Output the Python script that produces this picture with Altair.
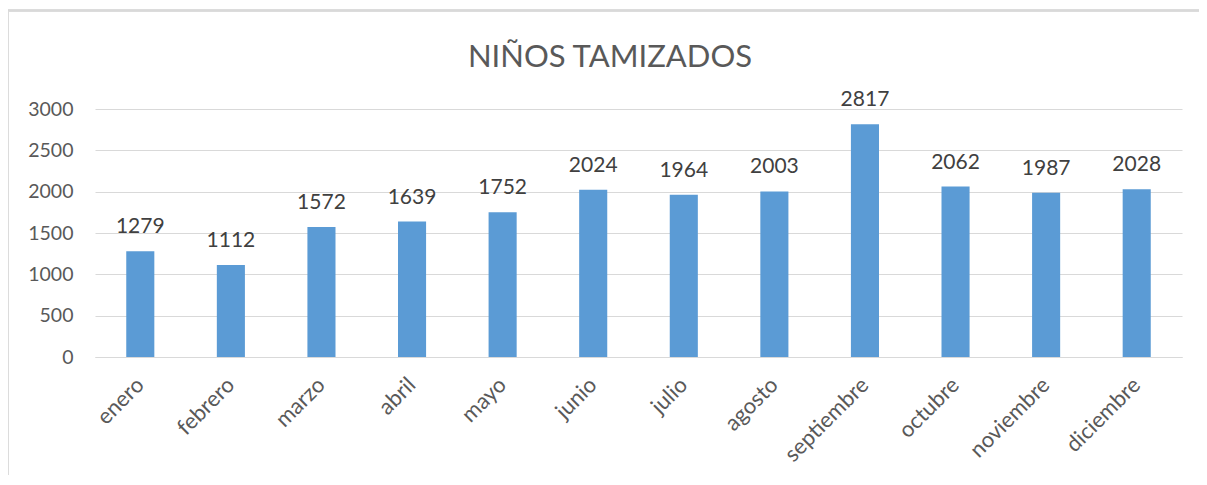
import altair as alt
import pandas as pd

months = ["enero", "febrero", "marzo", "abril", "mayo", "junio", "julio",
          "agosto", "septiembre", "octubre", "noviembre", "diciembre"]
values = [1279, 1112, 1572, 1639, 1752, 2024, 1964, 2003, 2817, 2062, 1987, 2028]
y_ticks = [0, 500, 1000, 1500, 2000, 2500, 3000]
title_text = ["NIÑOS TAMIZADOS"]

df = pd.DataFrame({"mes": months, "valor": values})
tdf = pd.DataFrame({"t": title_text})

FONT = "Lato"
GRID = "#d9d9d9"
TXT = "#595959"

x = alt.X("mes:N", sort=months, title=None,
          scale=alt.Scale(paddingInner=0.69, paddingOuter=0.345),
          axis=alt.Axis(labelAngle=-45, labelFontSize=22, labelColor=TXT, labelFont=FONT,
                        ticks=False, domainColor=GRID, domainWidth=1, labelPadding=24,
                        labelAlign="right", labelBaseline="middle"))
y = alt.Y("valor:Q", title=None,
          scale=alt.Scale(domain=[0, 3000], nice=False),
          axis=alt.Axis(values=y_ticks, format="d", labelFontSize=19.5, labelColor=TXT,
                        labelFont=FONT, ticks=False, domain=False, gridColor=GRID,
                        gridWidth=1, labelPadding=22))

bars = alt.Chart(df).mark_bar(color="#5B9BD5").encode(x=x, y=y)
labels = alt.Chart(df).mark_text(baseline="bottom", dy=-14, fontSize=21, font=FONT,
                                 color="#404040").encode(
    x=alt.X("mes:N", sort=months), y="valor:Q", text="valor:Q")

title = alt.Chart(tdf).mark_text(fontSize=31, font=FONT, color=TXT, baseline="alphabetic",
                                 align="center").encode(
    x=alt.value(515), y=alt.value(-42), text="t:N")

top_border = alt.Chart(df).mark_rule(color=GRID, strokeWidth=1.5).encode(
    x=alt.value(-88), x2=alt.value(1200), y=alt.value(-98.5))
left_border = alt.Chart(df).mark_rule(color=GRID, strokeWidth=1.5).encode(
    x=alt.value(-87.5), y=alt.value(-98.5), y2=alt.value(500))

chart = alt.layer(top_border, left_border, bars, labels, title).properties(
    width=1087, height=248,
    autosize=alt.AutoSizeParams(type="none"),
    padding={"left": 87, "top": 101, "right": 17, "bottom": 118},
).configure_view(stroke=None)

chart.save("out.html", embed_options={"renderer": "svg", "actions": False})
